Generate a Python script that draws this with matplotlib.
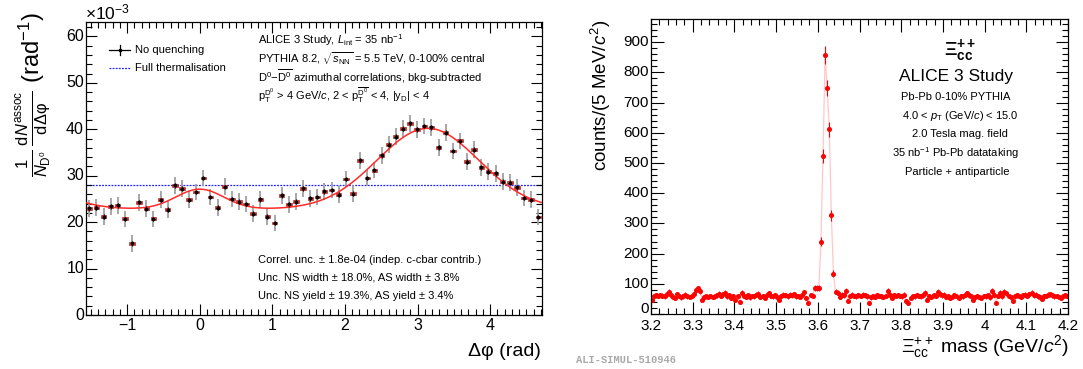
import numpy as np
import matplotlib
matplotlib.use("Agg")
import matplotlib.pyplot as plt
from matplotlib.lines import Line2D
from matplotlib.ticker import MultipleLocator

plt.rcParams['font.family'] = ['Liberation Sans', 'DejaVu Sans']
plt.rcParams['mathtext.fontset'] = 'custom'
plt.rcParams['mathtext.rm'] = 'Liberation Sans'
plt.rcParams['mathtext.it'] = 'Liberation Sans:italic'
plt.rcParams['mathtext.bf'] = 'Liberation Sans:bold'
plt.rcParams['mathtext.sf'] = 'Liberation Sans'

# ---------------- data: left panel (D0-D0bar correlations, units of 1e-3 rad^-1)
n_phi_bins = 64
phi_lo, phi_hi = -np.pi / 2, 3 * np.pi / 2
corr_values = [23.0, 23.1, 21.2, 23.4, 23.6, 20.7, 15.4, 24.3, 22.9, 20.7,
               24.8, 22.7, 27.9, 27.2, 24.8, 26.5, 29.5, 25.4, 23.1, 27.6,
               25.0, 24.4, 23.9, 21.8, 24.9, 21.2, 19.8, 25.8, 23.8, 24.4,
               27.3, 25.1, 25.4, 26.6, 26.9, 25.9, 29.3, 26.1, 33.3, 29.5,
               31.2, 34.4, 36.7, 38.4, 40.1, 41.3, 40.0, 40.7, 40.4, 36.1,
               39.3, 35.3, 37.5, 33.0, 35.6, 31.8, 30.9, 30.5, 28.7, 28.5,
               27.5, 25.2, 24.8, 21.1]
corr_stat = 1.8
corr_sys = 0.3
thermal_level = 28.0
# fit (baseline + near-side and away-side gaussians)
fit_base = 22.8
fit_ns_amp, fit_ns_sigma = 4.3, 0.33
fit_as_amp, fit_as_sigma = 17.4, 0.70

# ---------------- data: right panel (Xi_cc++ invariant mass)
mass_lo, mass_hi, n_mass_bins = 3.2, 4.2, 200
mass_counts = [45, 58, 62, 60, 63, 61, 58, 66, 74, 62,
               57, 52, 66, 60, 55, 58, 64, 59, 56, 60,
               65, 78, 85, 76, 47, 55, 58, 57, 60, 56,
               59, 62, 67, 60, 65, 71, 58, 62, 52, 60,
               48, 58, 40, 71, 60, 56, 62, 55, 60, 58,
               64, 67, 56, 60, 52, 62, 68, 60, 58, 63,
               55, 46, 60, 64, 62, 58, 64, 62, 65, 58,
               60, 57, 64, 72, 52, 38, 63, 60, 86, 86,
               87, 240, 524, 858, 748, 612, 327, 134, 74, 71,
               56, 64, 62, 77, 42, 60, 64, 60, 58, 62,
               60, 64, 62, 58, 35, 55, 58, 56, 62, 60,
               58, 56, 60, 76, 64, 54, 62, 60, 63, 60,
               58, 64, 42, 38, 54, 60, 58, 63, 60, 58,
               62, 70, 46, 58, 57, 62, 60, 74, 66, 62,
               64, 56, 58, 54, 56, 62, 60, 52, 60, 58,
               64, 68, 62, 58, 48, 56, 60, 57, 54, 60,
               58, 62, 55, 76, 64, 38, 60, 71, 58, 74,
               68, 60, 55, 42, 58, 62, 60, 57, 62, 64,
               60, 66, 71, 62, 64, 58, 55, 51, 58, 60,
               64, 66, 62, 58, 60, 56, 53, 58, 62, 60]

W, H = 1083, 369
fig = plt.figure(figsize=(W / 100, H / 100), dpi=100)


def px_axes(l, t, r, b):
    return fig.add_axes([l / W, 1 - b / H, (r - l) / W, (b - t) / H])


def fx(x):
    return x / W


def fy(y):
    return 1 - y / H


def root_style(ax, maj, minr, tsize=11):
    ax.tick_params(which='both', direction='in', top=True, right=True,
                   labelsize=tsize, width=0.8)
    ax.tick_params(which='major', length=maj)
    ax.tick_params(which='minor', length=minr)
    for s in ax.spines.values():
        s.set_linewidth(0.9)


# ================= left panel
axL = px_axes(85.7, 22, 541.9, 315)
edges = np.linspace(phi_lo, phi_hi, n_phi_bins + 1)
phi = 0.5 * (edges[:-1] + edges[1:])
vals = np.array(corr_values)

axL.axhline(thermal_level, color='#2020ff', lw=0.9, ls=(0, (1.5, 1.0)), zorder=1)
axL.errorbar(phi, vals, yerr=corr_stat, fmt='none', ecolor='#a0a0a0',
             elinewidth=1.3, capsize=0, zorder=2)
axL.bar(phi, 2 * corr_sys, bottom=vals - corr_sys, width=0.075,
        color='#e8301e', edgecolor='#a01010', linewidth=0.4, zorder=3)
xf = np.linspace(phi_lo, phi_hi, 400)
fit = (fit_base
       + fit_ns_amp * (np.exp(-xf ** 2 / (2 * fit_ns_sigma ** 2))
                       + np.exp(-(xf - 2 * np.pi) ** 2 / (2 * fit_ns_sigma ** 2)))
       + fit_as_amp * (np.exp(-(xf - np.pi) ** 2 / (2 * fit_as_sigma ** 2))
                       + np.exp(-(xf + np.pi) ** 2 / (2 * fit_as_sigma ** 2))))
axL.plot(xf, fit, color='#ff2a2a', lw=1.1, zorder=4)
axL.errorbar(phi, vals, yerr=0.5, xerr=0.02, fmt='none', ecolor='black',
             elinewidth=0.9, capsize=0, zorder=5)
axL.plot(phi, vals, ls='none', marker='o', ms=1.6, color='black', zorder=6)

axL.set_xlim(phi_lo, phi_hi)
axL.set_ylim(0, 63.1)
axL.xaxis.set_major_locator(MultipleLocator(1))
axL.xaxis.set_minor_locator(MultipleLocator(0.1))
axL.yaxis.set_major_locator(MultipleLocator(10))
axL.yaxis.set_minor_locator(MultipleLocator(2))
root_style(axL, 8, 4, 11.5)
axL.set_xticklabels([])
axL.set_yticklabels([])
for t in range(-1, 5):
    fig.text(fx(85.7 + (t - phi_lo) / (phi_hi - phi_lo) * 456.2), fy(326),
             '\u2212' + str(-t) if t < 0 else str(t), ha='center', va='center', fontsize=11.5)
for t in range(0, 61, 10):
    fig.text(fx(84), fy(315 - t / 63.1 * 293), str(t), ha='right', va='center', fontsize=11.5)

fig.text(fx(85), fy(12), r'$\times$10$^{-3}$', ha='left', va='center', fontsize=12.5)
fig.text(fx(541), fy(351), '\u0394\u03c6 (rad)', ha='right', va='center', fontsize=14)
fig.text(fx(33), fy(95),
         r'$\frac{1}{N_{\mathrm{D}^{0}}}\,\frac{\mathrm{d}N^{\mathrm{assoc}}}{\mathrm{d}\Delta\mathrm{\varphi}}$ (rad$^{-1}$)',
         rotation=90, ha='center', va='center', fontsize=17)

# legend
fig.add_artist(Line2D([fx(109), fx(130)], [fy(50), fy(50)], color='black', lw=0.9))
fig.add_artist(Line2D([fx(119.5), fx(119.5)], [fy(45), fy(55)], color='black', lw=0.9))
fig.add_artist(Line2D([fx(119.5)], [fy(50)], marker='o', ms=1.6, color='black'))
fig.add_artist(Line2D([fx(109), fx(130)], [fy(68), fy(68)], color='#2020ff', lw=0.9,
                      ls=(0, (1.5, 1.0))))
fig.text(fx(135), fy(50), 'No quenching', ha='left', va='center', fontsize=8)
fig.text(fx(135), fy(68), 'Full thermalisation', ha='left', va='center', fontsize=8)

txt_lines = [
    r'ALICE 3 Study, $L_{\mathrm{int}}$ = 35 nb$^{-1}$',
    r'PYTHIA 8.2, $\sqrt{s_{\mathrm{NN}}}$ = 5.5 TeV, 0-100% central',
    r'D$^{0}$$-$$\overline{\mathrm{D}^{0}}$ azimuthal correlations, bkg-subtracted',
    r'p$_{\mathrm{T}}^{\mathrm{D}^{0}}$ > 4 GeV/$c$, 2 < p$_{\mathrm{T}}^{\overline{\mathrm{D}^{0}}}$ < 4, |y$_{\mathrm{D}}$| < 4',
]
for i, s in enumerate(txt_lines):
    fig.text(fx(258), fy(40 + 18.5 * i), s, ha='left', va='center', fontsize=8)
bot_lines = [
    'Correl. unc. \u00b1 1.8e-04 (indep. c-cbar contrib.)',
    'Unc. NS width \u00b1 18.0%, AS width \u00b1 3.8%',
    'Unc. NS yield \u00b1 19.3%, AS yield \u00b1 3.4%',
]
for i, s in enumerate(bot_lines):
    fig.text(fx(258), fy(260 + 18 * i), s, ha='left', va='center', fontsize=8)

# ================= right panel
axR = px_axes(651, 19, 1068, 314)
medges = np.linspace(mass_lo, mass_hi, n_mass_bins + 1)
mass = 0.5 * (medges[:-1] + medges[1:])
cnt = np.array(mass_counts, dtype=float)
axR.plot(mass, cnt, color='#ffc8c8', lw=0.9, zorder=1)
axR.errorbar(mass, cnt, yerr=np.sqrt(cnt), fmt='o', ms=2.6, color='#ff0000',
             ecolor='#ff0000', elinewidth=0.8, capsize=0, zorder=2)
axR.set_xlim(mass_lo, mass_hi)
axR.set_ylim(0, 977)
axR.xaxis.set_major_locator(MultipleLocator(0.1))
axR.xaxis.set_minor_locator(MultipleLocator(0.02))
axR.yaxis.set_major_locator(MultipleLocator(100))
axR.yaxis.set_minor_locator(MultipleLocator(20))
root_style(axR, 9, 4.5, 11)
axR.set_xticklabels([])
axR.set_yticklabels([])
for i, lab in enumerate(['3.2', '3.3', '3.4', '3.5', '3.6', '3.7', '3.8', '3.9', '4', '4.1', '4.2']):
    fig.text(fx(651 + i * 41.7), fy(326), lab, ha='center', va='center', fontsize=11)
for v in range(0, 901, 100):
    yy = 314 - v / 977 * 295 if v > 0 else 309
    fig.text(fx(649), fy(yy), str(v), ha='right', va='center', fontsize=11)

fig.text(fx(601), fy(20), r'counts/(5 MeV/$c^{2}$)', rotation=90, ha='center', va='top',
         fontsize=13.5)
fig.text(fx(1069), fy(347), r'$\Xi_{\mathrm{cc}}^{++}$ mass (GeV/$c^{2}$)', ha='right',
         va='center', fontsize=14)
fig.text(fx(960), fy(50), r'$\mathbf{\Xi}_{\mathbf{cc}}^{\mathbf{++}}$', ha='center', va='center',
         fontsize=14)
fig.text(fx(956), fy(76), 'ALICE 3 Study', ha='center', va='center', fontsize=12.5)
right_lines = [
    'Pb-Pb 0-10% PYTHIA',
    r'4.0 < $p_{\mathrm{T}}$ (GeV/$c$) < 15.0',
    '2.0 Tesla mag. field',
    r'35 nb$^{-1}$ Pb-Pb datataking',
    'Particle + antiparticle',
]
right_x = [956, 960, 960, 955, 957]
for i, s in enumerate(right_lines):
    fig.text(fx(right_x[i]), fy(97 + 18.7 * i), s, ha='center', va='center', fontsize=8)

fig.text(fx(576), fy(360), 'ALI-SIMUL-510946', ha='left', va='center', fontsize=7.5,
         family='Liberation Mono', color='#a8a8a8', weight='bold')

fig.savefig('out.png', dpi=100)
